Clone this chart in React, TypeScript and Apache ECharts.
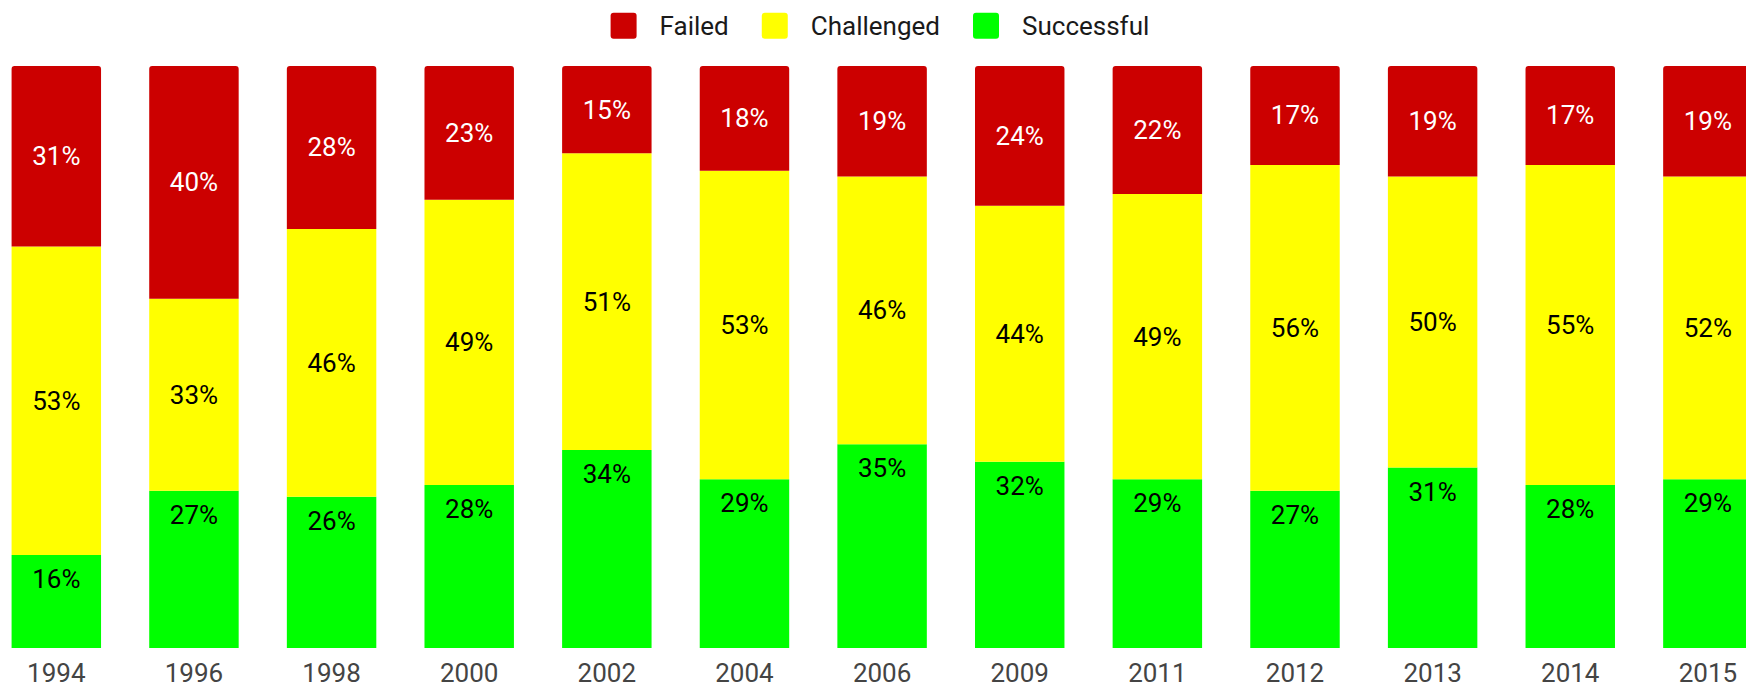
import React, { useEffect, useRef } from "react";
import * as echarts from "echarts";

const years = ["1994", "1996", "1998", "2000", "2002", "2004", "2006", "2009", "2011", "2012", "2013", "2014", "2015"];
const failed = [31, 40, 28, 23, 15, 18, 19, 24, 22, 17, 19, 17, 19];
const challenged = [53, 33, 46, 49, 51, 53, 46, 44, 49, 56, 50, 55, 52];
const successful = [16, 27, 26, 28, 34, 29, 35, 32, 29, 27, 31, 28, 29];

const FONT = "Roboto";
const iconPath = "path://M3,0 H23 Q26,0 26,3 V23 Q26,26 23,26 H3 Q0,26 0,23 V3 Q0,0 3,0 Z";

export default function App() {
  const ref = useRef<HTMLDivElement>(null);
  useEffect(() => {
    if (!ref.current) return;
    const chart = echarts.init(ref.current, undefined, { renderer: "svg" });
    chart.setOption({
      animation: false,
      textStyle: { fontFamily: FONT },
      legend: {
        top: 12.7,
        left: 610.6,
        padding: 0,
        itemWidth: 26,
        itemHeight: 26,
        itemGap: 33,
        icon: iconPath,
        data: ["Failed", "Challenged", "Successful"],
        textStyle: { fontFamily: FONT, fontSize: 26, color: "#1a1a1a", padding: [0, 0, 0, 18] },
      },
      grid: {
        left: -12.5,
        right: -30.7,
        top: 66,
        bottom: 39,
        outerBoundsMode: "none",
        containLabel: false,
      },
      xAxis: {
        type: "category",
        data: years,
        axisLine: { show: false },
        axisTick: { show: false },
        axisLabel: { fontFamily: FONT, fontSize: 26, color: "#444", margin: 12 },
      },
      yAxis: {
        type: "value",
        min: 0,
        max: 100,
        show: false,
        splitLine: { show: false },
      },
      series: [
        {
          name: "Successful",
          type: "bar",
          stack: "s",
          barWidth: "65%",
          data: successful,
          itemStyle: { color: "#00ff00" },
          label: {
            show: true,
            position: "insideTop",
            distance: 11,
            formatter: "{c}%",
            fontFamily: FONT,
            fontSize: 26,
            color: "#000",
          },
        },
        {
          name: "Challenged",
          type: "bar",
          stack: "s",
          barWidth: "65%",
          data: challenged,
          itemStyle: { color: "#ffff00" },
          label: {
            show: true,
            position: "inside",
            formatter: "{c}%",
            fontFamily: FONT,
            fontSize: 26,
            color: "#000",
          },
        },
        {
          name: "Failed",
          type: "bar",
          stack: "s",
          barWidth: "65%",
          data: failed,
          itemStyle: { color: "#cc0000", borderRadius: [3, 3, 0, 0] },
          label: {
            show: true,
            position: "inside",
            formatter: "{c}%",
            fontFamily: FONT,
            fontSize: 26,
            color: "#fff",
          },
        },
      ],
    });
    return () => chart.dispose();
  }, []);
  return (
    <div
      ref={ref}
      style={{ position: "fixed", left: 0, top: 0, width: 1746, height: 687, background: "#fff" }}
    />
  );
}
